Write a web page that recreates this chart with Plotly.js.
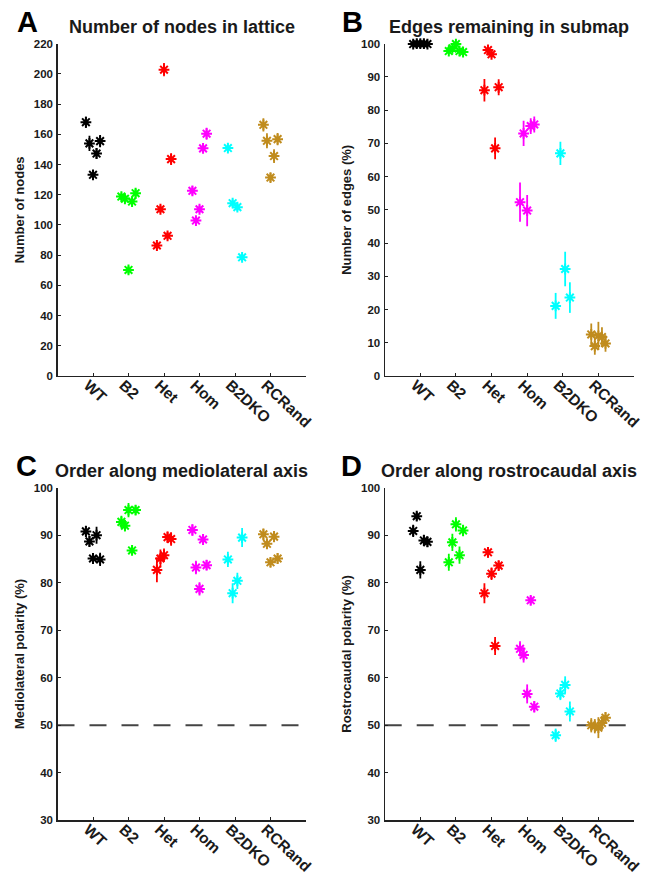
<!DOCTYPE html>
<html>
<head>
<meta charset="utf-8">
<script src="https://cdn.plot.ly/plotly-3.0.1.min.js"></script>
<style>
  html, body { margin: 0; padding: 0; background: #fff; }
  #chart { width: 657px; height: 877px; }
</style>
</head>
<body>
<div id="chart"></div>
<script>
// ---- data ----
const groups = ['WT', 'B2', 'Het', 'Hom', 'B2DKO', 'RCRand'];

const nodesMean = [
  [168.0, 154.0, 133.2, 147.3, 155.5],
  [118.8, 117.3, 70.2, 115.5, 121.0],
  [86.4, 110.4, 202.8, 92.8, 143.6],
  [122.6, 102.9, 110.4, 150.7, 160.4],
  [150.9, 114.4, 111.8, 78.6],
  [166.3, 155.7, 131.4, 145.6, 156.8]
];
const nodesErr = [
  [3.6, 5.0, 2.5, 3.5, 4.0],
  [2.5, 2.5, 2.5, 2.5, 3.0],
  [2.5, 2.5, 4.4, 2.5, 3.9],
  [3.0, 2.5, 2.5, 2.5, 4.0],
  [2.5, 2.5, 2.5, 2.5],
  [4.4, 5.0, 3.0, 4.6, 4.0]
];

const edgesMean = [
  [99.9, 100.0, 100.0, 100.0, 99.9],
  [97.8, 98.6, 99.9, 97.8, 97.5],
  [86.0, 98.1, 96.8, 68.5, 86.9],
  [52.3, 73.0, 49.8, 75.2, 75.7],
  [21.1, 67.0, 32.2, 23.6],
  [12.5, 9.0, 12.1, 11.7, 9.8]
];
const edgesErr = [
  [0.3, 0.3, 0.3, 0.3, 0.3],
  [1.0, 0.8, 0.8, 0.8, 0.8],
  [3.4, 1.3, 1.0, 3.3, 2.4],
  [5.9, 3.8, 4.7, 2.4, 2.4],
  [3.9, 3.5, 5.2, 4.6],
  [3.3, 2.6, 4.2, 3.0, 2.5]
];

const mlMean = [
  [90.8, 88.7, 85.1, 90.0, 84.9],
  [92.8, 92.0, 95.3, 86.8, 95.3],
  [82.7, 85.1, 85.8, 89.6, 89.2],
  [91.1, 83.2, 78.7, 89.1, 83.7],
  [84.9, 77.8, 80.4, 89.5],
  [90.2, 88.2, 84.3, 89.7, 85.1]
];
const mlErr = [
  [1.2, 1.2, 1.1, 1.8, 1.4],
  [1.3, 1.2, 1.5, 0.8, 1.0],
  [2.6, 1.9, 1.4, 1.2, 1.4],
  [1.2, 1.4, 1.4, 0.9, 1.1],
  [1.6, 2.1, 1.7, 2.0],
  [1.2, 1.0, 1.0, 1.2, 1.1]
];

const rcMean = [
  [90.9, 94.0, 82.7, 88.9, 88.6],
  [84.3, 88.5, 92.3, 85.8, 91.0],
  [77.8, 86.4, 81.9, 66.7, 83.6],
  [66.1, 64.8, 56.6, 76.3, 53.9],
  [47.9, 56.7, 58.5, 52.9],
  [50.0, 49.8, 49.5, 50.5, 51.6]
];
const rcErr = [
  [1.3, 0.9, 1.8, 1.2, 1.1],
  [1.8, 1.8, 1.5, 1.8, 1.2],
  [2.1, 1.1, 1.3, 1.9, 1.0],
  [1.6, 1.6, 2.0, 0.9, 1.2],
  [1.4, 1.4, 1.8, 2.1],
  [1.5, 1.5, 2.2, 1.5, 1.2]
];

const chanceLevel = 50;

// ---- styles ----
const groupColors = ['#000000', '#00ff00', '#ff0000', '#ff00ff', '#00ffff', '#c08c1e'];
const W = 657, H = 877;
const FONT = 'Liberation Sans, Arial, Helvetica, sans-serif';
const TXT = '#1a1a1a';

function px2fx(px) { return px / W; }
function px2fy(py) { return 1 - py / H; }

const panels = [
  { mean: nodesMean, err: nodesErr, ax: '', range: [0, 220], dtick: 20,
    ytitle: 'Number of nodes', title: 'Number of nodes in lattice', letter: 'A',
    x0: 57.5, x1: 306, y0: 43.7, y1: 376, tcy: 27, lx: 27, ly: 22, chance: false },
  { mean: edgesMean, err: edgesErr, ax: '2', range: [0, 100], dtick: 10,
    ytitle: 'Number of edges (%)', title: 'Edges remaining in submap', letter: 'B',
    x0: 384.7, x1: 634, y0: 43.7, y1: 376, tcy: 27, lx: 352, ly: 22, chance: false },
  { mean: mlMean, err: mlErr, ax: '3', range: [30, 100], dtick: 10,
    ytitle: 'Mediolateral polarity (%)', title: 'Order along mediolateral axis', letter: 'C',
    x0: 57.5, x1: 306, y0: 487.7, y1: 820.3, tcy: 471, lx: 26, ly: 466, chance: true },
  { mean: rcMean, err: rcErr, ax: '4', range: [30, 100], dtick: 10,
    ytitle: 'Rostrocaudal polarity (%)', title: 'Order along rostrocaudal axis', letter: 'D',
    x0: 384.7, x1: 634, y0: 487.7, y1: 820.3, tcy: 471, lx: 351, ly: 466, chance: true }
];

const traces = [];
const layout = {
  width: W, height: H,
  margin: { l: 0, r: 0, t: 0, b: 0 },
  paper_bgcolor: '#ffffff', plot_bgcolor: '#ffffff',
  showlegend: false,
  font: { family: FONT, color: TXT },
  annotations: [], shapes: []
};

panels.forEach(p => {
  const xa = 'x' + p.ax, ya = 'y' + p.ax;
  groups.forEach((g, gi) => {
    const vals = p.mean[gi];
    const n = vals.length;
    const xs = vals.map((v, i) => (gi + 1) + (n > 1 ? -0.2 + 0.4 * i / (n - 1) : 0));
    traces.push({
      type: 'scatter', mode: 'markers', name: g,
      x: xs, y: vals, xaxis: xa, yaxis: ya,
      marker: { symbol: 'asterisk-open', size: 9, color: groupColors[gi],
                line: { color: groupColors[gi], width: 2 } },
      error_y: { type: 'data', array: p.err[gi], visible: true,
                 color: groupColors[gi], thickness: 1.8, width: 0 },
      cliponaxis: false, hoverinfo: 'x+y'
    });
  });

  const xKey = 'xaxis' + p.ax, yKey = 'yaxis' + p.ax;
  layout[xKey] = {
    domain: [px2fx(p.x0), px2fx(p.x1)], anchor: ya,
    range: [0, 7], tickmode: 'array',
    tickvals: [1, 2, 3, 4, 5, 6, 7], ticktext: groups.concat(['']),
    tickangle: 43, tickfont: { family: FONT, size: 15.5, weight: 'bold', color: TXT },
    ticklabelstandoff: -7, ticklabelshift: -5,
    showline: true, linecolor: '#222', linewidth: 1.2,
    ticks: 'inside', ticklen: 3, tickcolor: '#222', tickwidth: 1,
    showgrid: false, zeroline: false, fixedrange: true
  };
  layout[yKey] = {
    domain: [px2fy(p.y1), px2fy(p.y0)], anchor: xa,
    range: p.range, dtick: p.dtick, tick0: 0,
    tickfont: { family: FONT, size: 11.5, weight: 'bold', color: TXT },
    ticklabelstandoff: 1,
    showline: true, linecolor: '#222', linewidth: 1.2,
    ticks: 'inside', ticklen: 3, tickcolor: '#222', tickwidth: 1,
    showgrid: false, zeroline: false, fixedrange: true,
    title: { text: p.ytitle, standoff: 6,
             font: { family: FONT, size: 13, weight: 'bold', color: TXT } }
  };

  layout.annotations.push({
    xref: 'paper', yref: 'paper', x: px2fx((p.x0 + p.x1) / 2), y: px2fy(p.tcy),
    xanchor: 'center', yanchor: 'middle', showarrow: false,
    text: p.title, font: { family: FONT, size: 18, weight: 'bold', color: TXT }
  });
  layout.annotations.push({
    xref: 'paper', yref: 'paper', x: px2fx(p.lx), y: px2fy(p.ly),
    xanchor: 'center', yanchor: 'middle', showarrow: false,
    text: p.letter, font: { family: FONT, size: 29, weight: 'bold', color: '#000' }
  });

  if (p.chance) {
    layout.shapes.push({
      type: 'line', xref: xa, yref: ya, x0: 0, x1: 7, y0: chanceLevel, y1: chanceLevel,
      layer: 'below', line: { color: '#444', width: 2, dash: '17px,15px' }
    });
  }
});

Plotly.newPlot('chart', traces, layout, { staticPlot: true, displayModeBar: false });
</script>
</body>
</html>
